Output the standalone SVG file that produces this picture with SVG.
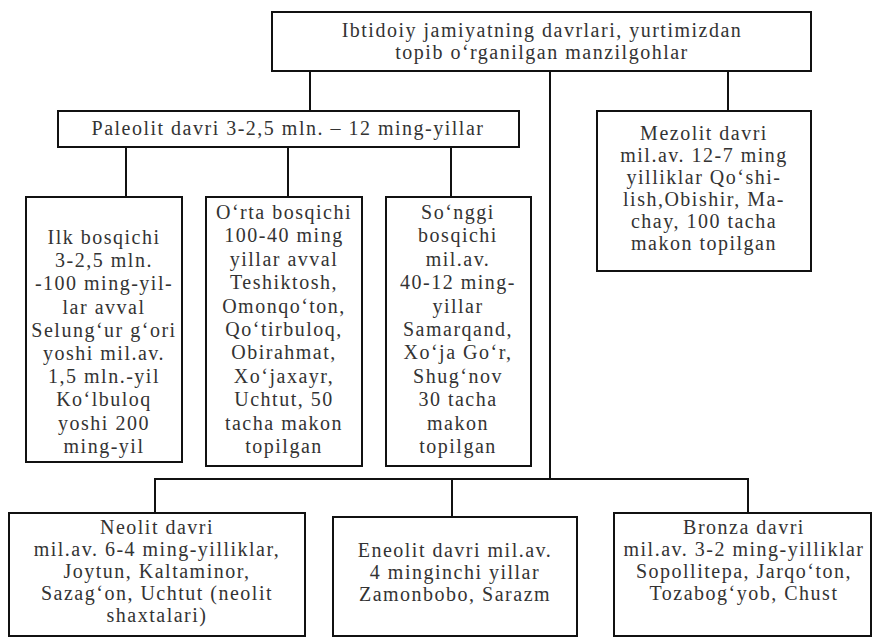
<svg xmlns="http://www.w3.org/2000/svg" width="874" height="638" viewBox="0 0 874 638">
<style>
.box{fill:#fff;stroke:#111;stroke-width:2}
.t{font-family:"Liberation Serif","Times New Roman",serif;font-size:20px;fill:#333;text-anchor:middle;letter-spacing:1.5px}
.c{stroke:#111;stroke-width:2;fill:none}
</style>
<rect width="874" height="638" fill="#fff"/>
<g id="connectors">
<line class="c" x1="310" y1="71" x2="310" y2="111"/>
<line class="c" x1="550" y1="71" x2="550" y2="479"/>
<line class="c" x1="728" y1="71" x2="728" y2="111"/>
<line class="c" x1="126" y1="147" x2="126" y2="197"/>
<line class="c" x1="288" y1="147" x2="288" y2="197"/>
<line class="c" x1="451" y1="147" x2="451" y2="197"/>
<polyline class="c" points="155,513 155,479 748,479 748,513"/>
<line class="c" x1="452" y1="479" x2="452" y2="517"/>
</g>
<g id="root">
<rect class="box" x="272" y="12" width="539" height="59"/>
<text class="t" y="37"><tspan x="542">Ibtidoiy jamiyatning davrlari, yurtimizdan</tspan><tspan x="542" dy="22">topib o‘rganilgan manzilgohlar</tspan></text>
</g>
<g id="paleolit">
<rect class="box" x="58" y="111" width="461" height="36"/>
<text class="t" x="288" y="135">Paleolit davri 3-2,5 mln. – 12 ming-yillar</text>
</g>
<g id="mezolit">
<rect class="box" x="597" y="111" width="214" height="160"/>
<text class="t" y="140"><tspan x="704">Mezolit davri</tspan><tspan x="704" dy="22">mil.av. 12-7 ming</tspan><tspan x="704" dy="22">yilliklar Qo‘shi-</tspan><tspan x="704" dy="22">lish,Obishir, Ma-</tspan><tspan x="704" dy="22">chay, 100 tacha</tspan><tspan x="704" dy="22">makon topilgan</tspan></text>
</g>
<g id="ilk">
<rect class="box" x="26" y="197" width="156" height="265"/>
<text class="t" y="244"><tspan x="104">Ilk bosqichi</tspan><tspan x="104" dy="23.2">3-2,5 mln.</tspan><tspan x="104" dy="23.2">-100 ming-yil-</tspan><tspan x="104" dy="23.2">lar avval</tspan><tspan x="104" dy="23.2">Selung‘ur g‘ori</tspan><tspan x="104" dy="23.2">yoshi mil.av.</tspan><tspan x="104" dy="23.2">1,5 mln.-yil</tspan><tspan x="104" dy="23.2">Ko‘lbuloq</tspan><tspan x="104" dy="23.2">yoshi 200</tspan><tspan x="104" dy="23.2">ming-yil</tspan></text>
</g>
<g id="orta">
<rect class="box" x="206" y="197" width="156" height="269"/>
<text class="t" y="219"><tspan x="284">O‘rta bosqichi</tspan><tspan x="284" dy="23.4">100-40 ming</tspan><tspan x="284" dy="23.4">yillar avval</tspan><tspan x="284" dy="23.4">Teshiktosh,</tspan><tspan x="284" dy="23.4">Omonqo‘ton,</tspan><tspan x="284" dy="23.4">Qo‘tirbuloq,</tspan><tspan x="284" dy="23.4">Obirahmat,</tspan><tspan x="284" dy="23.4">Xo‘jaxayr,</tspan><tspan x="284" dy="23.4">Uchtut, 50</tspan><tspan x="284" dy="23.4">tacha makon</tspan><tspan x="284" dy="23.4">topilgan</tspan></text>
</g>
<g id="songgi">
<rect class="box" x="386" y="197" width="145" height="269"/>
<text class="t" y="219"><tspan x="458">So‘nggi</tspan><tspan x="458" dy="23.4">bosqichi</tspan><tspan x="458" dy="23.4">mil.av.</tspan><tspan x="458" dy="23.4">40-12 ming-</tspan><tspan x="458" dy="23.4">yillar</tspan><tspan x="458" dy="23.4">Samarqand,</tspan><tspan x="458" dy="23.4">Xo‘ja Go‘r,</tspan><tspan x="458" dy="23.4">Shug‘nov</tspan><tspan x="458" dy="23.4">30 tacha</tspan><tspan x="458" dy="23.4">makon</tspan><tspan x="458" dy="23.4">topilgan</tspan></text>
</g>
<g id="neolit">
<rect class="box" x="9" y="513" width="296" height="123"/>
<text class="t" y="534"><tspan x="157">Neolit davri</tspan><tspan x="157" dy="22">mil.av. 6-4 ming-yilliklar,</tspan><tspan x="157" dy="22">Joytun, Kaltaminor,</tspan><tspan x="157" dy="22">Sazag‘on, Uchtut (neolit</tspan><tspan x="157" dy="22">shaxtalari)</tspan></text>
</g>
<g id="eneolit">
<rect class="box" x="333" y="517" width="244" height="119"/>
<text class="t" y="557"><tspan x="455">Eneolit davri mil.av.</tspan><tspan x="455" dy="22">4 minginchi yillar</tspan><tspan x="455" dy="22">Zamonbobo, Sarazm</tspan></text>
</g>
<g id="bronza">
<rect class="box" x="614" y="513" width="257" height="123"/>
<text class="t" y="534"><tspan x="744">Bronza davri</tspan><tspan x="744" dy="22">mil.av. 3-2 ming-yilliklar</tspan><tspan x="744" dy="22">Sopollitepa, Jarqo‘ton,</tspan><tspan x="744" dy="22">Tozabog‘yob, Chust</tspan></text>
</g>
</svg>
